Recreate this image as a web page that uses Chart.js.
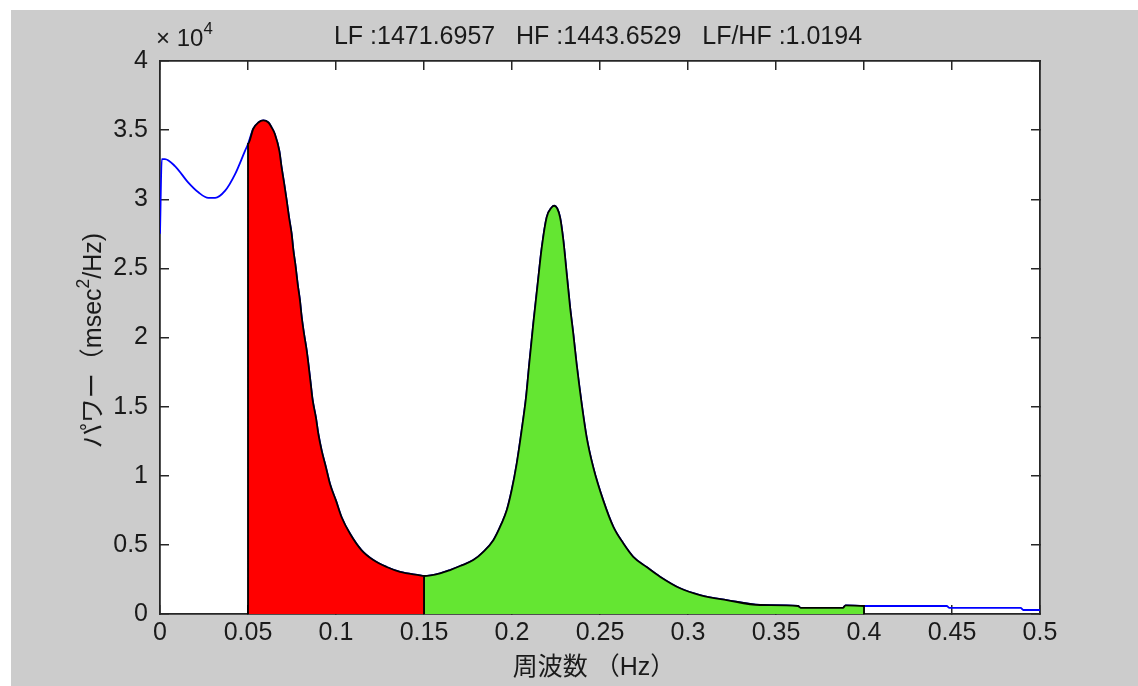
<!DOCTYPE html>
<html>
<head>
<meta charset="utf-8">
<script src="https://cdn.jsdelivr.net/npm/chart.js@4/dist/chart.umd.min.js"></script>
<style>
    body { margin: 0; background: #ffffff; }
    #wrap { position: absolute; left: 11px; top: 10px; width: 1127px; height: 676px; background: #cccccc; }
</style>
</head>
<body>
<div id="wrap"><canvas id="psdChart" width="1127" height="676"></canvas></div>
<script>
        // spectrum (msec^2/Hz)
        const freq = [0, 0.001, 0.0028, 0.0085, 0.0161, 0.0218, 0.0275, 0.0313, 0.0369, 0.0426, 0.0483,
            0.05, 0.053, 0.0559, 0.0587,
            0.0616, 0.0634, 0.0653, 0.0678, 0.0691, 0.0706, 0.072, 0.0733, 0.0748, 0.0758, 0.0771, 0.0782,
            0.0795, 0.0805, 0.0818, 0.0833, 0.0845, 0.0856, 0.0867, 0.0886, 0.09, 0.0919, 0.0943, 0.0966,
            0.1, 0.1032, 0.108, 0.1146, 0.1212, 0.1288, 0.1364, 0.1477, 0.15,
            0.1591, 0.1648, 0.1705, 0.178, 0.1837, 0.1894, 0.1941, 0.197, 0.1998, 0.2027, 0.2055, 0.208,
            0.2098, 0.2121, 0.2146, 0.2169, 0.2197, 0.2225, 0.224, 0.2273, 0.2292, 0.2311, 0.233, 0.2348,
            0.2367, 0.2396, 0.2424, 0.2462, 0.2519, 0.2576, 0.2633, 0.2689, 0.2765, 0.2841, 0.2955, 0.3068,
            0.322, 0.341, 0.3625, 0.364, 0.388, 0.3895, 0.4, 0.447, 0.4485, 0.489, 0.4905, 0.5];
        const power = [27500, 32900, 32900, 32400, 31200, 30500, 30100, 30100, 30600, 31800, 33500,
            34000, 35100, 35550, 35700,
            35550, 35200, 34700, 33500, 32300, 31100, 29900, 28700, 27500, 26300, 25100, 23900,
            22700, 21500, 20300, 19100, 17900, 16700, 15500, 14200, 13000, 11800, 10600, 9400,
            8200, 7000, 5800, 4600, 3900, 3400, 3050, 2800, 2750,
            2940, 3180, 3470, 3900, 4500, 5340, 6550, 7500, 8950, 10900, 13300, 15700,
            18100, 21000, 23900, 26500, 28700, 29400, 29530, 28700, 27000, 24600, 22200, 20300,
            18100, 15200, 12800, 10600, 8200, 6300, 5100, 4140, 3400, 2700, 1860, 1370,
            1010, 650, 580, 450, 450, 620, 580, 580, 450, 450, 290, 290];

        const lfBand = [0.05, 0.15];
        const hfBand = [0.15, 0.4];
        const xTicks = [0, 0.05, 0.1, 0.15, 0.2, 0.25, 0.3, 0.35, 0.4, 0.45, 0.5];
        const yTicks = [0, 5000, 10000, 15000, 20000, 25000, 30000, 35000, 40000];
        const bandNames = ['LF', 'HF', 'LF/HF'];
        const bandValues = [1471.6957, 1443.6529, 1.0194];

        const latin = "'Liberation Sans', Arial, sans-serif";
        const jpFont = "'Liberation Sans', 'Noto Sans CJK JP', sans-serif";
        const frameColor = '#262626';

        function bandPoints(band) {
            const pts = [{ x: band[0], y: 0 }];
            freq.forEach((f, i) => {
                if (f >= band[0] && f <= band[1]) pts.push({ x: f, y: power[i] });
            });
            pts.push({ x: band[1], y: 0 });
            return pts;
        }

        const fullCurve = freq.map((f, i) => ({ x: f, y: power[i] }));

        // draw text with a superscript part
        function drawSup(ctx, parts, x, y, size, align) {
            ctx.save();
            let total = 0;
            parts.forEach(p => {
                ctx.font = (p.sup ? size * 0.7 : size) + 'px ' + p.font;
                p.w = ctx.measureText(p.t).width;
                total += p.w;
            });
            let cx = align === 'center' ? x - total / 2 : x;
            ctx.textAlign = 'left';
            ctx.textBaseline = 'alphabetic';
            parts.forEach(p => {
                ctx.font = (p.sup ? size * 0.7 : size) + 'px ' + p.font;
                ctx.fillText(p.t, cx, p.sup ? y - size * 0.5 : y);
                cx += p.w;
            });
            ctx.restore();
        }

        // white axes box
        const areaPlugin = {
            id: 'areaPlugin',
            beforeDraw(chart) {
                const a = chart.chartArea;
                chart.ctx.save();
                chart.ctx.fillStyle = '#ffffff';
                chart.ctx.fillRect(a.left, a.top, a.right - a.left, a.bottom - a.top);
                chart.ctx.restore();
            }
        };

        const labelPlugin = {
            id: 'labelPlugin',
            afterDraw(chart) {
                const ctx = chart.ctx;
                const area = chart.chartArea;
                ctx.save();
                ctx.fillStyle = '#1a1a1a';

                // title line
                ctx.font = '25px ' + latin;
                ctx.textAlign = 'center';
                ctx.textBaseline = 'middle';
                const title = bandNames.map((n, i) => n + ' :' + bandValues[i].toFixed(4)).join('   ');
                ctx.fillText(title, (area.left + area.right) / 2 - 2, 27);

                // exponent
                drawSup(ctx, [{ t: '\u00d7 10', font: latin }, { t: '4', font: latin, sup: true }],
                    area.left - 4, 36, 24, 'left');

                // x title
                ctx.font = '25px ' + jpFont;
                ctx.textAlign = 'center';
                ctx.textBaseline = 'middle';
                ctx.fillText('周波数 （Hz）', (area.left + area.right) / 2 - 6, 658);

                // y title
                ctx.translate(81, (area.top + area.bottom) / 2 + 3);
                ctx.rotate(-Math.PI / 2);
                drawSup(ctx, [{ t: 'パワー（msec', font: jpFont }, { t: '2', font: jpFont, sup: true },
                    { t: '/Hz)', font: jpFont }], 0, 9, 25, 'center');
                ctx.restore();
            }
        };

        const tickFont = { family: latin, size: 25 };

        const ctx = document.getElementById('psdChart').getContext('2d');
        const psdChart = new Chart(ctx, {
            type: 'line',
            data: {
                datasets: [{
                    label: 'LF',
                    data: bandPoints(lfBand),
                    borderColor: '#000000',
                    borderWidth: 1.8,
                    backgroundColor: '#ff0000',
                    fill: 'origin',
                    pointRadius: 0,
                    cubicInterpolationMode: 'monotone'
                }, {
                    label: 'HF',
                    data: bandPoints(hfBand),
                    borderColor: '#000000',
                    borderWidth: 1.8,
                    backgroundColor: '#64e632',
                    fill: 'origin',
                    pointRadius: 0,
                    cubicInterpolationMode: 'monotone'
                }, {
                    label: 'PSD',
                    data: fullCurve,
                    borderColor: '#0000ff',
                    borderWidth: 1.8,
                    fill: false,
                    pointRadius: 0,
                    cubicInterpolationMode: 'monotone'
                }]
            },
            options: {
                responsive: false,
                animation: false,
                layout: { padding: { top: 51, right: 98, bottom: 0, left: 0 } },
                plugins: {
                    legend: { display: false },
                    tooltip: { enabled: false }
                },
                scales: {
                    x: {
                        type: 'linear',
                        position: 'bottom',
                        min: 0,
                        max: 0.5,
                        afterFit: s => { s.height = 72; },
                        afterBuildTicks: s => { s.ticks = xTicks.map(v => ({ value: v })); },
                        ticks: {
                            font: tickFont,
                            color: '#1a1a1a',
                            padding: 13,
                            maxRotation: 0,
                            autoSkip: false,
                            callback: v => String(Number(v.toFixed(2)))
                        },
                        grid: { drawOnChartArea: false, tickLength: -9, color: frameColor, lineWidth: 1.5 },
                        border: { color: frameColor, width: 1.8 }
                    },
                    x2: {
                        type: 'linear',
                        position: 'top',
                        min: 0,
                        max: 0.5,
                        afterFit: s => { s.height = 0; },
                        afterBuildTicks: s => { s.ticks = xTicks.map(v => ({ value: v })); },
                        ticks: { display: false },
                        grid: { drawOnChartArea: false, tickLength: -9, color: frameColor, lineWidth: 1.5 },
                        border: { color: frameColor, width: 1.8 }
                    },
                    y: {
                        type: 'linear',
                        position: 'left',
                        min: 0,
                        max: 40000,
                        afterFit: s => { s.width = 149; },
                        afterBuildTicks: s => { s.ticks = yTicks.map(v => ({ value: v })); },
                        ticks: {
                            font: tickFont,
                            color: '#1a1a1a',
                            padding: 21,
                            callback: v => String(v / 10000)
                        },
                        grid: { drawOnChartArea: false, tickLength: -9, color: frameColor, lineWidth: 1.5 },
                        border: { color: frameColor, width: 1.8 }
                    },
                    y2: {
                        type: 'linear',
                        position: 'right',
                        min: 0,
                        max: 40000,
                        afterFit: s => { s.width = 0; },
                        afterBuildTicks: s => { s.ticks = yTicks.map(v => ({ value: v })); },
                        ticks: { display: false },
                        grid: { drawOnChartArea: false, tickLength: -9, color: frameColor, lineWidth: 1.5 },
                        border: { color: frameColor, width: 1.8 }
                    }
                }
            },
            plugins: [areaPlugin, labelPlugin]
        });
</script>
</body>
</html>
